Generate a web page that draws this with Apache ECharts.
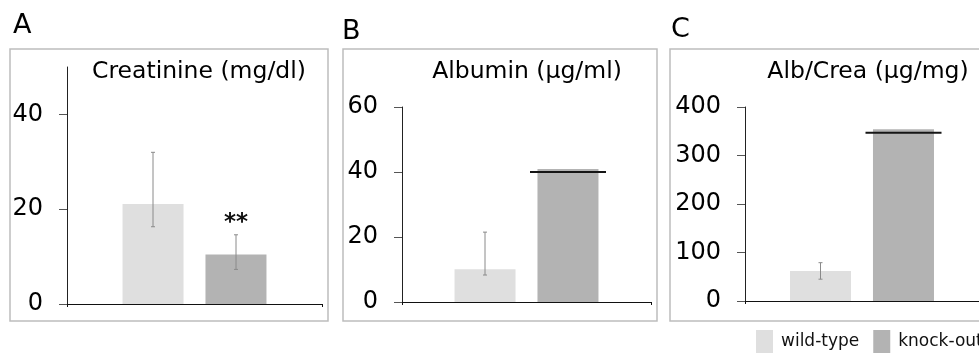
<!DOCTYPE html>
<html>
<head>
<meta charset="utf-8">
<script src="https://cdn.jsdelivr.net/npm/echarts@6/dist/echarts.min.js"></script>
<style>
html,body{margin:0;padding:0;background:#fff;}
#chart{width:979px;height:353px;}
</style>
</head>
<body>
<div id="chart"></div>
<script>
// data
var groups = ['wild-type', 'knock-out'];
var panelLetters = ['A', 'B', 'C'];
var panelTitles = ['Creatinine (mg/dl)', 'Albumin (µg/ml)', 'Alb/Crea (µg/mg)'];

var creaMean = [21.1, 10.45];
var creaLow = [16.3, 7.3];
var creaHigh = [32.0, 14.6];
var creaSig = ['', '**'];

var albMean = [10.1, 40.9];
var albLow = [8.3, null];
var albHigh = [21.5, null];
var albLine = [null, 40];

var ratioMean = [62, 354];
var ratioLow = [45, null];
var ratioHigh = [79, null];
var ratioLine = [null, 347];

var creaTicks = [0, 20, 40];
var creaMax = 50;
var albTicks = [0, 20, 40, 60];
var ratioTicks = [0, 100, 200, 300, 400];

var colors = ['#dfdfdf', '#b3b3b3'];
var FONT = 'DejaVu Sans';
var BAR_W = 61;
var BAR_OFF = 41.5;   // half of bar width + gap

function sideX(api, side) {
  return api.coord([0, 0])[0] + (side === 0 ? -1 : 1) * BAR_OFF;
}

function errRender(sig) {
  return function (params, api) {
    var side = api.value(3);
    var x = sideX(api, side);
    var lo = api.coord([0, api.value(1)])[1];
    var hi = api.coord([0, api.value(2)])[1];
    var st = {stroke: '#8a8a8a', lineWidth: 1};
    var kids = [
      {type: 'line', shape: {x1: x, y1: lo, x2: x, y2: hi}, style: st},
      {type: 'line', shape: {x1: x - 2, y1: hi, x2: x + 2, y2: hi}, style: st},
      {type: 'line', shape: {x1: x - 2, y1: lo, x2: x + 2, y2: lo}, style: st}
    ];
    if (sig && sig[side]) {
      kids.push({type: 'text', x: x, y: hi, style: {
        text: sig[side], font: 'bold 23px "' + FONT + '"', fill: '#111',
        align: 'center', verticalAlign: 'bottom'
      }});
    }
    return {type: 'group', children: kids};
  };
}

function lineRender(params, api) {
  var side = api.value(2);
  var x = sideX(api, side);
  var y = api.coord([0, api.value(1)])[1];
  var hw = BAR_W / 2 + 7.5;
  return {type: 'line', shape: {x1: x - hw, y1: y, x2: x + hw, y2: y},
    style: {stroke: '#151515', lineWidth: 2}};
}

function errData(low, high) {
  var out = [];
  low.forEach(function (v, i) {
    if (v != null) out.push([0, v, high[i], i]);
  });
  return out;
}
function lineData(vals) {
  var out = [];
  vals.forEach(function (v, i) {
    if (v != null) out.push([0, v, i]);
  });
  return out;
}

var grids = [
  {left: 67, top: 67, width: 255, height: 237},
  {left: 402, top: 107, width: 249, height: 195},
  {left: 745, top: 107, width: 240, height: 194}
];

function xAxis(i) {
  return {
    type: 'category', gridIndex: i, data: [''],
    axisLine: {lineStyle: {color: '#111', width: 1}},
    axisTick: {show: true, length: 3, lineStyle: {color: '#111'}},
    axisLabel: {show: false}
  };
}
function yAxis(i, ticks, max) {
  return {
    type: 'value', gridIndex: i, min: 0, max: max,
    interval: ticks[1] - ticks[0],
    splitLine: {show: false},
    axisLine: {show: true, lineStyle: {color: '#222', width: 1}},
    axisTick: {show: true, length: 8, customValues: ticks, lineStyle: {color: '#555'}},
    axisLabel: {customValues: ticks, margin: 24, color: '#000', fontSize: 24, fontFamily: FONT}
  };
}

function bars(i, means) {
  return groups.map(function (g, k) {
    return {
      name: g, type: 'bar', xAxisIndex: i, yAxisIndex: i,
      barWidth: BAR_W, barGap: '36%',
      itemStyle: {color: colors[k]},
      data: [means[k]]
    };
  });
}

var series = []
  .concat(bars(0, creaMean))
  .concat(bars(1, albMean))
  .concat(bars(2, ratioMean));

series.push({type: 'custom', name: 'errA', xAxisIndex: 0, yAxisIndex: 0, z: 5,
  renderItem: errRender(creaSig), data: errData(creaLow, creaHigh)});
series.push({type: 'custom', name: 'errB', xAxisIndex: 1, yAxisIndex: 1, z: 5,
  renderItem: errRender(null), data: errData(albLow, albHigh)});
series.push({type: 'custom', name: 'errC', xAxisIndex: 2, yAxisIndex: 2, z: 5,
  renderItem: errRender(null), data: errData(ratioLow, ratioHigh)});
series.push({type: 'custom', name: 'lineB', xAxisIndex: 1, yAxisIndex: 1, z: 5,
  renderItem: lineRender, data: lineData(albLine)});
series.push({type: 'custom', name: 'lineC', xAxisIndex: 2, yAxisIndex: 2, z: 5,
  renderItem: lineRender, data: lineData(ratioLine)});

// frames, panel letters and titles
var frames = [
  {x: 10, w: 318}, {x: 343, w: 314}, {x: 670, w: 330}
];
var letterPos = [[13, 26], [342, 32], [671, 30]];
var titleX = [199, 527, 868];
var graphics = [];
frames.forEach(function (f, i) {
  graphics.push({type: 'rect', shape: {x: f.x, y: 49, width: f.w, height: 272},
    style: {fill: null, stroke: '#bdbdbd', lineWidth: 1.5}, z: 0});
  graphics.push({type: 'text', x: letterPos[i][0], y: letterPos[i][1],
    style: {text: panelLetters[i], font: '27px "' + FONT + '"', fill: '#000',
      verticalAlign: 'middle'}});
  graphics.push({type: 'text', x: titleX[i], y: 72,
    style: {text: panelTitles[i], font: '23.5px "' + FONT + '"', fill: '#000',
      align: 'center', verticalAlign: 'middle'}});
});

var option = {
  animation: false,
  backgroundColor: '#fff',
  grid: grids,
  xAxis: [xAxis(0), xAxis(1), xAxis(2)],
  yAxis: [yAxis(0, creaTicks, creaMax), yAxis(1, albTicks, 60), yAxis(2, ratioTicks, 400)],
  legend: {
    data: groups, left: 756, top: 330, width: 400, padding: 0,
    icon: 'rect', itemWidth: 17, itemHeight: 24, itemGap: 14,
    textStyle: {fontSize: 17, fontFamily: FONT, color: '#111', padding: [0, 0, 0, 3]}
  },
  graphic: graphics,
  series: series
};

var chart = echarts.init(document.getElementById('chart'));
chart.setOption(option);
window.addEventListener('resize', function () {
  chart.resize();
});
</script>
</body>
</html>
